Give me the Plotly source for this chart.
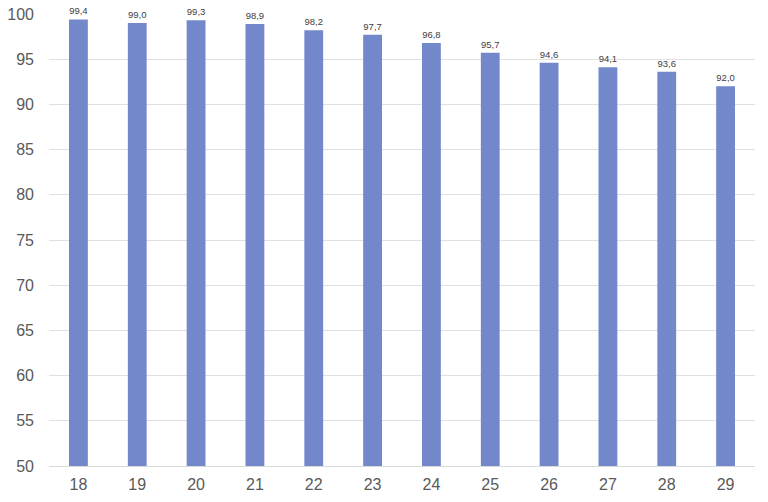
import plotly.graph_objects as go

categories = ["18", "19", "20", "21", "22", "23", "24", "25", "26", "27", "28", "29"]
values = [99.4, 99.0, 99.3, 98.9, 98.2, 97.7, 96.8, 95.7, 94.6, 94.1, 93.6, 92.0]
labels = [f"{v:.1f}".replace(".", ",") for v in values]
y_ticks = list(range(50, 101, 5))

fig = go.Figure(go.Bar(
    x=categories, y=values,
    marker=dict(color="#7388CB", line=dict(width=0)),
    text=labels, textposition="outside", cliponaxis=False,
    textfont=dict(family="Liberation Sans, Arial", size=9.5, color="#404040"),
))
fig.update_layout(
    width=768, height=502, autosize=False,
    margin=dict(l=49, r=13, t=14, b=36, autoexpand=False),
    paper_bgcolor="white", plot_bgcolor="white",
    bargap=0.68, showlegend=False,
    font=dict(family="Liberation Sans, Arial", size=16, color="#595959"),
)
fig.update_xaxes(type="category", automargin=False, showgrid=False, showline=True,
                 linecolor="#D9D9D9", linewidth=1, ticks="", ticklabelstandoff=4,
                 tickfont=dict(size=16, color="#595959"))
fig.update_yaxes(range=[50, 100], tickvals=y_ticks, automargin=False, showgrid=True,
                 gridcolor="#E0E0E0", gridwidth=1, zeroline=False, showline=False, ticks="",
                 ticklabelstandoff=14, tickfont=dict(size=16, color="#595959"))
fig.write_html("out.html", config={"responsive": False, "displayModeBar": False},
               post_script="document.body.style.margin='0';document.body.style.overflow='hidden';")
